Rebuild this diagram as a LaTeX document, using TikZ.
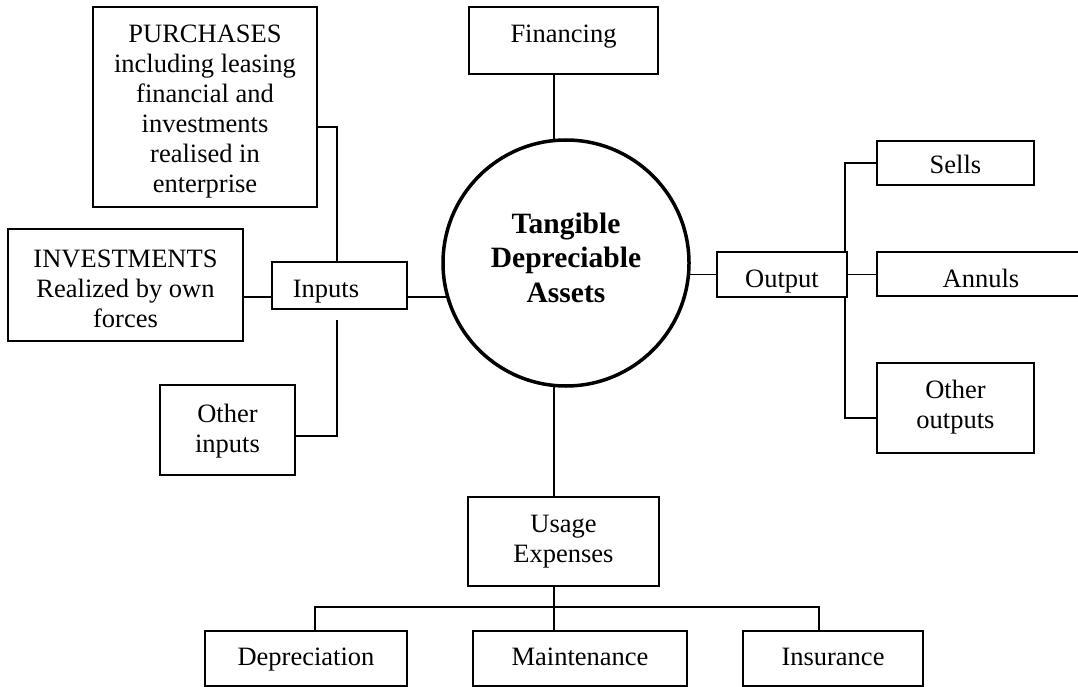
\documentclass[tikz,border=0pt]{standalone}
\usepackage{fontspec}
\setmainfont{Liberation Serif}
\begin{document}
\begin{tikzpicture}[x=1pt,y=-1pt,
  box/.style={draw, line width=1.8pt, inner sep=0pt, align=center, fill=white,
    font=\fontsize{26.5}{30}\selectfont},
  link/.style={line width=1.8pt},
  hub/.style={draw, circle, line width=3.5pt, inner sep=0pt, minimum size=246pt,
    align=center, font=\bfseries\fontsize{29.5}{34.5}\selectfont}]
\path[fill=white, use as bounding box] (0,0) rectangle (1078,687);

% centre
\node[hub, text height=78pt, text depth=0pt] (circ) at (566,263) {Tangible\\Depreciable\\Assets};

% top
\node[box, minimum width=189pt, minimum height=67pt, text height=18pt, text depth=13pt]
  (fin) at (563.5,40.5) {Financing};

% left side
\node[box, minimum width=224pt, minimum height=200pt, text height=172pt, text depth=0pt]
  (purch) at (205,107)
  {PURCHASES\\including leasing\\financial and\\investments\\realised in\\enterprise};
\node[box, minimum width=235pt, minimum height=112pt, text height=84pt, text depth=0pt]
  (invest) at (125.5,285)
  {INVESTMENTS\\Realized by own\\forces};
\node[box, minimum width=135pt, minimum height=47pt, text height=23pt, text depth=0pt]
  (inputs) at (339.5,285.5) {Inputs\hspace*{27pt}};
\node[box, minimum width=135pt, minimum height=90pt, text height=44pt, text depth=0pt]
  (otherin) at (227.5,430) {Other\\inputs};

% right side
\node[box, minimum width=130pt, minimum height=45pt, text height=25pt, text depth=0pt]
  (output) at (782,274.5) {Output};
\node[box, minimum width=157pt, minimum height=44pt, text height=22pt, text depth=0pt]
  (sells) at (955.5,163) {Sells};
\node[box, minimum width=208pt, minimum height=44pt, text height=26pt, text depth=0pt]
  (annuls) at (981,274) {Annuls};
\node[box, minimum width=157pt, minimum height=90pt, text height=40pt, text depth=0pt]
  (otherout) at (955.5,408) {Other\\outputs};

% bottom
\node[box, minimum width=191pt, minimum height=89pt, text height=41pt, text depth=0pt]
  (usage) at (563.5,541.5) {Usage\\Expenses};
\node[box, minimum width=202pt, minimum height=55pt, text height=18pt, text depth=5pt]
  (dep) at (306,658.5) {Depreciation};
\node[box, minimum width=214pt, minimum height=55pt, text height=18pt, text depth=5pt]
  (maint) at (580,658.5) {Maintenance};
\node[box, minimum width=180pt, minimum height=55pt, text height=18pt, text depth=5pt]
  (ins) at (833,658.5) {Insurance};

% connectors
\begin{scope}[link]
\draw ([xshift=-9.5pt]fin.south) -- ([xshift=-9.5pt]fin.south |- circ.96);
\draw ([yshift=-20pt]purch.east) -| ([xshift=-2.5pt]inputs.north);
\draw ([yshift=-11.5pt]inputs.west) -- ([yshift=-11.5pt]inputs.west -| invest.east);
\draw ([yshift=-11.5pt]inputs.east) -- ([yshift=-11.5pt]inputs.east -| circ.196);
\draw ([xshift=-2.5pt,yshift=-10pt]inputs.south) |- ([yshift=-6pt]otherin.east);
\draw (output.west) -- (output.west -| circ.-5);
\draw (sells.west) -| ([xshift=-3pt]output.north east);
\draw (output.east) -- (output.east -| annuls.west);
\draw ([yshift=-10pt]otherout.west) -| ([xshift=-3pt]output.south east);
\draw ([xshift=-9.5pt]usage.north) -- ([xshift=-9.5pt]usage.north |- circ.264);
\draw ([xshift=-9.5pt]usage.south) -- ([xshift=-9.5pt]usage.south |- maint.north);
\draw ([xshift=9pt]dep.north) |- ([xshift=-14pt,yshift=23pt]ins.north) -- ([xshift=-14pt]ins.north);
\end{scope}
\end{tikzpicture}
\end{document}
